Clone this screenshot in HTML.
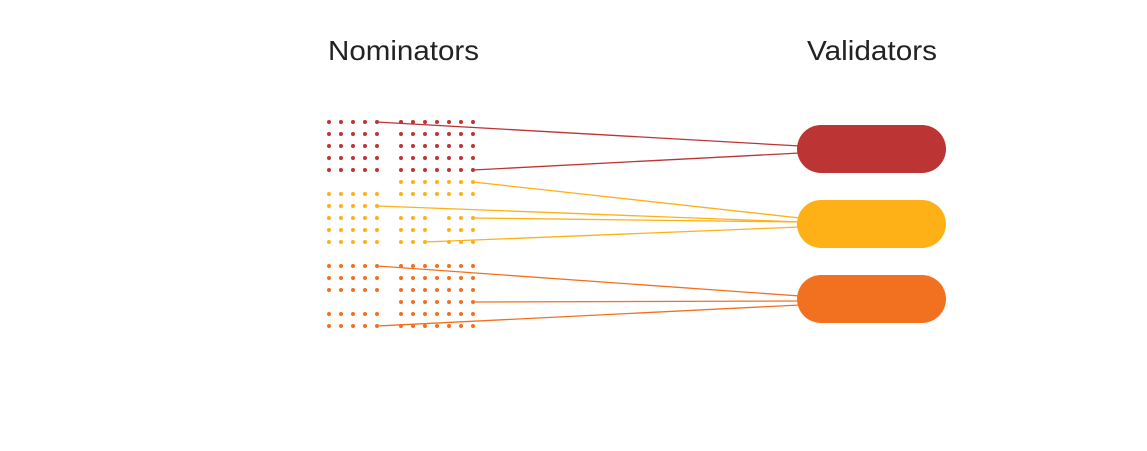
<!DOCTYPE html>
<html><head><meta charset="utf-8"><style>
html,body{margin:0;padding:0;background:#fff;}
svg{display:block;}
</style></head><body>
<svg width="1147" height="451" viewBox="0 0 1147 451" xmlns="http://www.w3.org/2000/svg">
<defs>
<pattern id="pr" patternUnits="userSpaceOnUse" x="323" y="116" width="12" height="12"><circle cx="6" cy="6" r="2" fill="#BC3434"/></pattern>
<pattern id="py" patternUnits="userSpaceOnUse" x="323" y="116" width="12" height="12"><circle cx="6" cy="6" r="2" fill="#FDB117"/></pattern>
<pattern id="po" patternUnits="userSpaceOnUse" x="323" y="116" width="12" height="12"><circle cx="6" cy="6" r="2" fill="#F27121"/></pattern>
</defs>
<text x="328" y="60" font-family="Liberation Sans, sans-serif" font-size="28" fill="#222" textLength="151" lengthAdjust="spacingAndGlyphs">Nominators</text>
<text x="807" y="60" font-family="Liberation Sans, sans-serif" font-size="28" fill="#222" textLength="130" lengthAdjust="spacingAndGlyphs">Validators</text>
<!-- red -->
<rect x="323" y="116" width="60" height="60" fill="url(#pr)"/>
<rect x="395" y="116" width="84" height="60" fill="url(#pr)"/>
<!-- yellow -->
<rect x="395" y="176" width="84" height="24" fill="url(#py)"/>
<rect x="323" y="188" width="60" height="60" fill="url(#py)"/>
<rect x="395" y="212" width="36" height="36" fill="url(#py)"/>
<rect x="443" y="212" width="36" height="36" fill="url(#py)"/>
<!-- orange -->
<rect x="323" y="260" width="60" height="36" fill="url(#po)"/>
<rect x="395" y="260" width="84" height="72" fill="url(#po)"/>
<rect x="323" y="308" width="60" height="24" fill="url(#po)"/>
<g stroke-width="1.3" fill="none">
<line x1="377" y1="122" x2="800" y2="146" stroke="#BC3434"/>
<line x1="473" y1="170" x2="800" y2="153" stroke="#BC3434"/>
<line x1="473" y1="182" x2="800" y2="218" stroke="#FDB117"/>
<line x1="377" y1="206" x2="800" y2="222" stroke="#FDB117"/>
<line x1="473" y1="218" x2="800" y2="222" stroke="#FDB117"/>
<line x1="425" y1="242" x2="800" y2="227" stroke="#FDB117"/>
<line x1="377" y1="266" x2="800" y2="296" stroke="#F27121"/>
<line x1="473" y1="302" x2="800" y2="301" stroke="#F27121"/>
<line x1="377" y1="326" x2="800" y2="305" stroke="#F27121"/>
</g>
<rect x="797" y="125" width="149" height="48" rx="24" fill="#BC3434"/>
<rect x="797" y="200" width="149" height="48" rx="24" fill="#FDB117"/>
<rect x="797" y="275" width="149" height="48" rx="24" fill="#F27121"/>
</svg>
</body></html>
